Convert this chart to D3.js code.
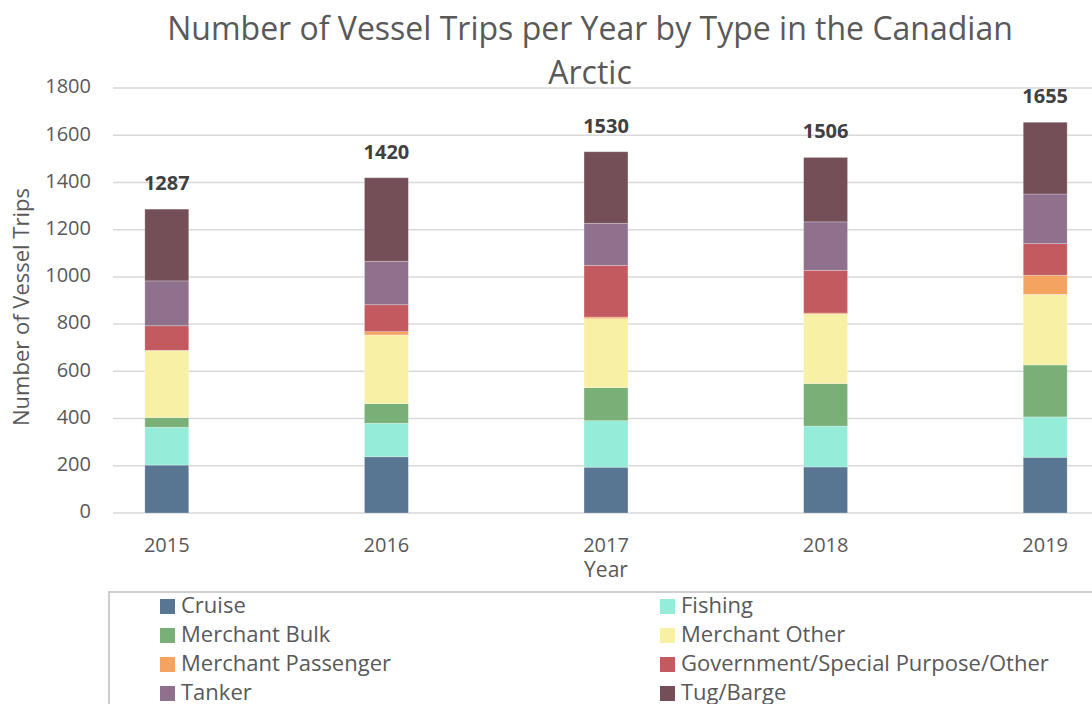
<!DOCTYPE html>
<html>
<head>
<meta charset="utf-8">
<script src="https://cdn.jsdelivr.net/npm/d3@7"></script>
<style>
  body { margin: 0; background: #fff; }
  svg { font-family: "Open Sans", "Noto Sans", sans-serif; }
</style>
</head>
<body>
<svg id="chart" width="1092" height="704"></svg>
<script>
// 数据
var years = ["2015", "2016", "2017", "2018", "2019"]
var types = ["Cruise", "Fishing", "Merchant Bulk", "Merchant Other", "Merchant Passenger",
             "Government/Special Purpose/Other", "Tanker", "Tug/Barge"]
var colors = ["#587591", "#95EDD9", "#78B077", "#F7F0A5", "#F4A460", "#C25A60", "#8F718D", "#744F58"]

var cruise     = [203, 238, 194, 195, 236]
var fishing    = [160, 142, 197, 173, 171]
var bulk       = [41, 83, 140, 180, 220]
var other      = [285, 291, 292, 294, 299]
var passenger  = [0, 14, 7, 5, 81]
var government = [104, 114, 219, 181, 134]
var tanker     = [190, 184, 178, 205, 210]
var tug        = [304, 354, 303, 273, 304]
var totals     = [1287, 1420, 1530, 1506, 1655]
var yTicks     = [0, 200, 400, 600, 800, 1000, 1200, 1400, 1600, 1800]

var series = [cruise, fishing, bulk, other, passenger, government, tanker, tug]

// 表格
var rows = years.map(function (y, i) {
  var r = { year: y }
  types.forEach(function (t, k) { r[t] = series[k][i] })
  return r
})

var svg = d3.select("#chart")

// 比例尺
var x = d3.scaleBand().domain(years).range([57, 1155]).paddingInner(0.8).paddingOuter(0.4)
var y = d3.scaleLinear().domain([0, 1800]).range([513, 88])
var gridLeft = 113, gridRight = 1092

// 网格线
svg.append("g")
   .selectAll("line")
   .data(yTicks)
   .join("line")
   .attr("x1", gridLeft)
   .attr("x2", gridRight)
   .attr("y1", function (d) { return y(d) })
   .attr("y2", function (d) { return y(d) })
   .attr("stroke", "#d9d9d9")
   .attr("stroke-width", 1.5)

// y 轴标签
svg.append("g")
   .selectAll("text")
   .data(yTicks)
   .join("text")
   .attr("x", 91)
   .attr("y", function (d) { return y(d) })
   .attr("text-anchor", "end")
   .attr("dominant-baseline", "middle")
   .attr("font-size", 20)
   .attr("fill", "#595959")
   .text(function (d) { return d })

// 堆叠
var stack = d3.stack().keys(types)(rows)

svg.append("g")
   .selectAll("g")
   .data(stack)
   .join("g")
   .attr("fill", function (d, i) { return colors[i] })
   .selectAll("rect")
   .data(function (d) { return d })
   .join("rect")
   .attr("x", function (d) { return x(d.data.year) })
   .attr("width", x.bandwidth())
   .attr("y", function (d) { return y(d[1]) })
   .attr("height", function (d) { return y(d[0]) - y(d[1]) })
   .attr("stroke", "#ffffff")
   .attr("stroke-opacity", 0.35)
   .attr("stroke-width", 0.75)

// 总数标签
svg.append("g")
   .selectAll("text")
   .data(totals)
   .join("text")
   .attr("x", function (d, i) { return x(years[i]) + x.bandwidth() / 2 })
   .attr("y", function (d) { return y(d) - 19 })
   .attr("text-anchor", "middle")
   .attr("font-size", 20)
   .attr("font-weight", "bold")
   .attr("fill", "#404040")
   .text(function (d) { return d })

// x 轴标签
svg.append("g")
   .selectAll("text")
   .data(years)
   .join("text")
   .attr("x", function (d) { return x(d) + x.bandwidth() / 2 })
   .attr("y", 552)
   .attr("text-anchor", "middle")
   .attr("font-size", 20)
   .attr("fill", "#595959")
   .text(function (d) { return d })

// 轴标题
svg.append("text")
   .attr("x", x("2017") + x.bandwidth() / 2)
   .attr("y", 577)
   .attr("text-anchor", "middle")
   .attr("font-size", 21)
   .attr("fill", "#595959")
   .text("Year")

svg.append("text")
   .attr("transform", "translate(29,307) rotate(-90)")
   .attr("text-anchor", "middle")
   .attr("font-size", 22)
   .attr("fill", "#595959")
   .text("Number of Vessel Trips")

// 标题
var title = svg.append("text")
   .attr("text-anchor", "middle")
   .attr("font-size", 32)
   .attr("fill", "#595959")
title.append("tspan").attr("x", 590).attr("y", 40).text("Number of Vessel Trips per Year by Type in the Canadian")
title.append("tspan").attr("x", 590).attr("y", 84).text("Arctic")

// 图例
svg.append("rect")
   .attr("x", 109)
   .attr("y", 592)
   .attr("width", 1000)
   .attr("height", 130)
   .attr("fill", "none")
   .attr("stroke", "#bfbfbf")
   .attr("stroke-width", 1.5)

var legend = svg.append("g")
   .selectAll("g")
   .data(types)
   .join("g")
   .attr("transform", function (d, i) {
     return "translate(" + (i % 2 === 0 ? 160 : 660) + "," + (606 + Math.floor(i / 2) * 29) + ")"
   })

legend.append("rect")
   .attr("x", 0)
   .attr("y", -7)
   .attr("width", 15)
   .attr("height", 15)
   .attr("fill", function (d, i) { return colors[i] })

legend.append("text")
   .attr("x", 21)
   .attr("y", 1)
   .attr("dominant-baseline", "middle")
   .attr("font-size", 22)
   .attr("fill", "#595959")
   .text(function (d) { return d })
</script>
</body>
</html>
